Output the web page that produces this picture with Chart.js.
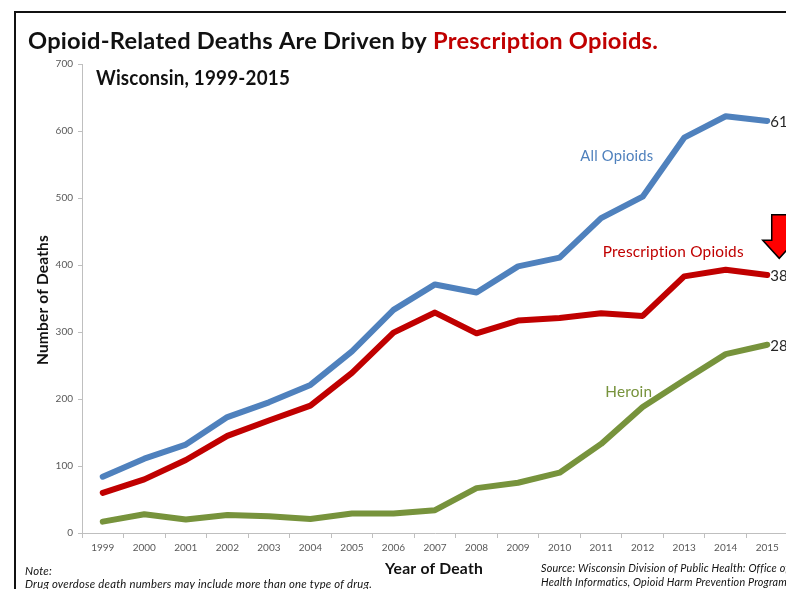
<!DOCTYPE html>
<html>
<head>
<meta charset="utf-8">
<script src="https://cdn.jsdelivr.net/npm/chart.js@4/dist/chart.umd.min.js"></script>
<style>
  html, body { margin: 0; padding: 0; background: #ffffff; overflow: hidden; }
  #wrap { width: 786px; height: 589px; overflow: hidden; position: relative; }
  canvas { display: block; }
</style>
</head>
<body>
<div id="wrap"><canvas id="c" width="830" height="589"></canvas></div>
<script>
// ---- Data ----
const years = ['1999','2000','2001','2002','2003','2004','2005','2006','2007','2008','2009','2010','2011','2012','2013','2014','2015'];
const allOpioids = [84, 111, 132, 173, 195, 221, 271, 333, 371, 359, 398, 411, 470, 502, 590, 622, 615];
const rxOpioids  = [60, 80, 109, 145, 168, 190, 239, 299, 329, 298, 317, 321, 328, 324, 383, 393, 385];
const heroin     = [17, 28, 20, 27, 25, 21, 29, 29, 34, 67, 75, 90, 133, 188, 228, 267, 281];
const seriesNames = ['All Opioids', 'Prescription Opioids', 'Heroin'];
const yTicks = [0, 100, 200, 300, 400, 500, 600, 700];

// ---- Styles ----
const COLORS = ['#4F81BD', '#C00000', '#77933C'];
const FONT = 'Lato, "Open Sans", "DejaVu Sans", sans-serif';
const W = 830, H = 589;
const PLOT = { left: 82, right: 788, top: 64, bottom: 533 };

// series label anchors (category index, value)
const seriesLabelAnchor = [[11.5, 563], [12.04, 419], [12.1, 210]];

function noLig(ctx) { try { ctx.letterSpacing = '0.2px'; } catch (e) {} }

function fitText(ctx, text, x, y, font, color, width, align) {
  ctx.save();
  ctx.font = font;
  noLig(ctx);
  ctx.fillStyle = color;
  ctx.textBaseline = 'alphabetic';
  const w = ctx.measureText(text).width;
  const sx = width ? width / w : 1;
  ctx.translate(x, y);
  ctx.scale(sx, 1);
  ctx.textAlign = align || 'left';
  ctx.fillText(text, 0, 0);
  ctx.restore();
}

const decor = {
  id: 'decor',
  beforeDraw(chart) {
    const ctx = chart.ctx;
    ctx.save();
    ctx.fillStyle = '#ffffff';
    ctx.fillRect(0, 0, W, H);
    ctx.fillStyle = '#111111';
    ctx.fillRect(14, 11, W, 2);
    ctx.fillRect(14, 11, 2, H);
    ctx.restore();
  },
  afterDraw(chart) {
    const ctx = chart.ctx;
    const xs = chart.scales.x, ys = chart.scales.y;

    // Title (two colours)
    ctx.save();
    const tFont = 'bold 22px ' + FONT;
    ctx.font = tFont;
    noLig(ctx);
    const p1 = 'Opioid-Related Deaths Are Driven by ';
    const p2 = 'Prescription Opioids.';
    const w1 = ctx.measureText(p1).width, w2 = ctx.measureText(p2).width;
    const sx = 630 / (w1 + w2);
    ctx.translate(28, 49);
    ctx.scale(sx, 1);
    ctx.textBaseline = 'alphabetic';
    ctx.fillStyle = '#111111';
    ctx.fillText(p1, 0, 0);
    ctx.fillStyle = '#C00000';
    ctx.fillText(p2, w1, 0);
    ctx.restore();

    // Subtitle
    fitText(ctx, 'Wisconsin, 1999-2015', 96, 85, 'bold 20px ' + FONT, '#111111', 194);

    // Series labels
    const lblW = [73, 141, 47];
    seriesNames.forEach((n, i) => {
      const a = seriesLabelAnchor[i];
      const px = xs.getPixelForValue(a[0]);
      const py = ys.getPixelForValue(a[1]);
      fitText(ctx, n, px, py + 5, '15px ' + FONT, COLORS[i], lblW[i]);
    });

    // End-of-line value labels
    chart.data.datasets.forEach((ds, i) => {
      const meta = chart.getDatasetMeta(i);
      const pt = meta.data[meta.data.length - 1];
      ctx.save();
      ctx.font = '15px ' + FONT;
      ctx.fillStyle = '#262626';
      ctx.textBaseline = 'middle';
      ctx.textAlign = 'left';
      ctx.fillText(String(ds.data[ds.data.length - 1]), pt.x + 3, pt.y + 1);
      ctx.restore();
    });

    // Red down arrow near the last prescription point
    const cx = xs.getPixelForValue(years.length - 1) + 12;
    const yTop = ys.getPixelForValue(475), yBase = ys.getPixelForValue(437), yTip = ys.getPixelForValue(410);
    ctx.save();
    ctx.beginPath();
    ctx.moveTo(cx - 7.5, yTop);
    ctx.lineTo(cx + 7.5, yTop);
    ctx.lineTo(cx + 7.5, yBase);
    ctx.lineTo(cx + 16.5, yBase);
    ctx.lineTo(cx, yTip);
    ctx.lineTo(cx - 16.5, yBase);
    ctx.lineTo(cx - 7.5, yBase);
    ctx.closePath();
    ctx.fillStyle = '#FF0000';
    ctx.fill();
    ctx.lineWidth = 1.5;
    ctx.strokeStyle = '#000000';
    ctx.lineJoin = 'miter';
    ctx.stroke();
    ctx.restore();

    // Axis titles
    ctx.save();
    ctx.translate(48, 300);
    ctx.rotate(-Math.PI / 2);
    fitText(ctx, 'Number of Deaths', 0, 0, 'bold 15px ' + FONT, '#111111', 130, 'center');
    ctx.restore();
    fitText(ctx, 'Year of Death', 434, 574, 'bold 16px ' + FONT, '#111111', 98, 'center');

    // Notes
    fitText(ctx, 'Note:', 25, 575, 'italic 11px ' + FONT, '#111111', 27);
    fitText(ctx, 'Drug overdose death numbers may include more than one type of drug.', 25, 588, 'italic 11px ' + FONT, '#111111', 347);
    fitText(ctx, 'Source: Wisconsin Division of Public Health: Office of', 541, 572, 'italic 11px ' + FONT, '#111111', 248);
    fitText(ctx, 'Health Informatics, Opioid Harm Prevention Program', 541, 586, 'italic 11px ' + FONT, '#111111', 246);
  }
};

const mk = (label, data, color) => ({
  label, data,
  borderColor: color,
  backgroundColor: color,
  borderWidth: 6,
  pointRadius: 0,
  pointHoverRadius: 0,
  tension: 0,
  fill: false,
  borderCapStyle: 'round',
  borderJoinStyle: 'round'
});

new Chart(document.getElementById('c'), {
  type: 'line',
  data: {
    labels: years,
    datasets: [
      mk(seriesNames[0], allOpioids, COLORS[0]),
      mk(seriesNames[1], rxOpioids, COLORS[1]),
      mk(seriesNames[2], heroin, COLORS[2])
    ]
  },
  options: {
    responsive: false,
    devicePixelRatio: 1,
    animation: false,
    events: [],
    layout: { padding: { left: 0, right: W - PLOT.right, top: PLOT.top, bottom: 0 } },
    plugins: { legend: { display: false }, tooltip: { enabled: false }, title: { display: false } },
    scales: {
      x: {
        type: 'category',
        offset: true,
        afterFit(s) { s.height = H - PLOT.bottom; },
        grid: { display: true, offset: true, drawOnChartArea: false, drawTicks: true, tickLength: 5, color: '#bfbfbf' },
        border: { display: true, color: '#bfbfbf', width: 1 },
        ticks: { color: '#595959', font: { family: FONT, size: 10 }, padding: 4, maxRotation: 0, autoSkip: false }
      },
      y: {
        min: 0, max: 700,
        afterFit(s) { s.width = PLOT.left; },
        afterBuildTicks(s) { s.ticks = yTicks.map(v => ({ value: v })); },
        grid: { display: true, drawOnChartArea: false, drawTicks: true, tickLength: 4, color: '#bfbfbf' },
        border: { display: true, color: '#bfbfbf', width: 1 },
        ticks: { color: '#595959', font: { family: FONT, size: 10 }, padding: 5 }
      }
    }
  },
  plugins: [decor]
});
</script>
</body>
</html>
